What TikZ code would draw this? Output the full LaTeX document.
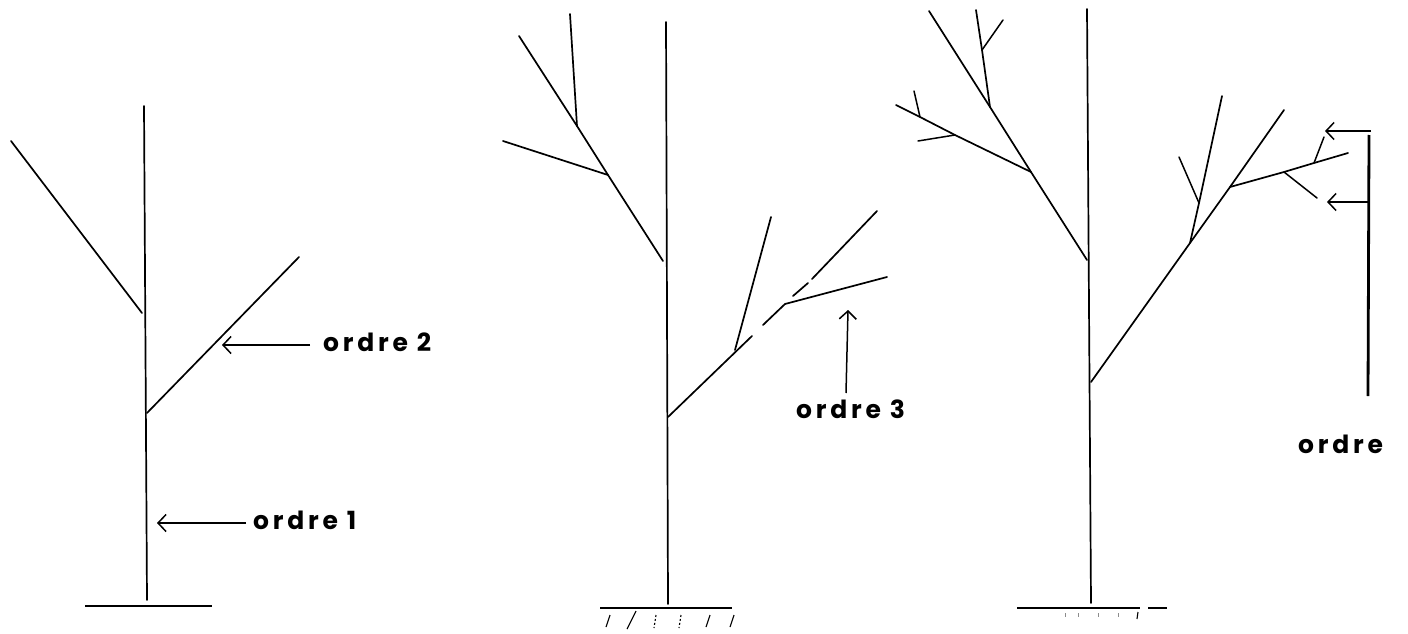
\documentclass[tikz,border=0pt]{standalone}
\usepackage{fontspec}
\newfontfamily\lbl[LetterSpace=15]{Poppins}
\usetikzlibrary{arrows.meta}
\begin{document}
\begin{tikzpicture}[x=1pt,y=-1pt,
  br/.style={line width=1.7pt, line cap=round},
  tw/.style={line width=1.5pt, line cap=round},
  gr/.style={line width=1.7pt},
  ht/.style={line width=1.1pt},
  faint/.style={line width=1pt, black!45},
  lab/.style={font=\lbl\bfseries\fontsize{25}{28}\selectfont, inner sep=0pt, anchor=base west},
  ar/.style={line width=1.5pt, -{Straight Barb[length=8pt,width=17pt,line width=1.5pt]}},
  brk/.style={line width=2.8pt},
]
\useasboundingbox (0,0) rectangle (1408,634);
% ---------------- tree 1 ----------------
\coordinate (t1top) at (144,106);
\coordinate (t1bot) at (147,600);
\coordinate (g1a) at (85,606);
\coordinate (g1b) at (212,606);
\coordinate (l1a) at (142,313);
\coordinate (l1b) at (11,141);
\coordinate (r1a) at (147,413);
\coordinate (r1b) at (299,257);
\draw[br] (t1top) -- (t1bot);
\draw[gr] (g1a) -- (g1b);
\draw[br] (l1a) -- (l1b);
\draw[br] (r1a) -- (r1b);
\node[lab] (o2) at (323,351) {ordre 2};
\node[lab] (o1) at (253,529) {ordre 1};
\coordinate (a2tail) at (310,345);
\coordinate (a2head) at (222,345);
\coordinate (a1tail) at (246,523);
\coordinate (a1head) at (157,523);
\draw[ar] (a2tail) -- (a2head);
\draw[ar] (a1tail) -- (a1head);
% ---------------- tree 2 ----------------
\coordinate (t2top) at (666,22);
\coordinate (t2bot) at (668,604);
\draw[br] (t2top) -- (t2bot);
\coordinate (g2a) at (600,608);
\coordinate (g2b) at (732,608);
\draw[gr] (g2a) -- (g2b);
\foreach \x in {608,708,732} \draw[ht] (\x+2,615) -- (\x-2,627);
\draw[ht] (636,611) -- (627,629);
\foreach \x in {655,680} \draw[ht, dash pattern=on 2pt off 2pt] (\x+1,615) -- (\x-1,628);
% left branch
\coordinate (l2a) at (663,261);
\coordinate (l2j1) at (608,175);
\coordinate (l2j2) at (577,126);
\coordinate (l2b) at (519,36);
\coordinate (l2s1) at (503,141);
\coordinate (l2s2) at (570,14);
\draw[br] (l2a) -- (l2j1) -- (l2j2) -- (l2b);
\draw[br] (l2j1) -- (l2s1);
\draw[br] (l2j2) -- (l2s2);
% right branch (with gaps)
\coordinate (r2a) at (668,417);
\coordinate (r2g1) at (752,336);
\coordinate (r2g2) at (763,325);
\coordinate (r2f) at (785,304);
\coordinate (r2e) at (887,277);
\coordinate (r2u1) at (793,296);
\coordinate (r2u2) at (808,283);
\coordinate (r2u3) at (812,279);
\coordinate (r2u4) at (877,211);
\coordinate (r2sj) at (735,350);
\coordinate (r2st) at (771,217);
\draw[br] (r2a) -- (r2g1);
\draw[br] (r2g2) -- (r2f);
\draw[br] (r2f) -- (r2e);
\draw[br] (r2u1) -- (r2u2);
\draw[br] (r2u3) -- (r2u4);
\draw[br] (r2sj) -- (r2st);
\node[lab] (o3) at (796,418) {ordre 3};
\coordinate (a3tail) at (846,393);
\coordinate (a3head) at (848,310);
\draw[ar] (a3tail) -- (a3head);
% ---------------- tree 3 ----------------
\coordinate (t3top) at (1087,9);
\coordinate (t3bot) at (1091,603);
\draw[br] (t3top) -- (t3bot);
\coordinate (g3a) at (1017,608);
\coordinate (g3b) at (1140,608);
\coordinate (g3c) at (1148,608);
\coordinate (g3d) at (1167,608);
\draw[gr] (g3a) -- (g3b);
\draw[gr] (g3c) -- (g3d);
\foreach \x in {1065,1078,1098,1118} \draw[faint] (\x,613) -- (\x,617);
\draw[ht] (1138,612) -- (1137,619);
% left branch
\coordinate (l3a) at (1087,260);
\coordinate (l3ja) at (1031,172);
\coordinate (l3jb) at (990,107);
\coordinate (l3b) at (929,11);
\coordinate (l3s1) at (896,105);
\coordinate (l3s2) at (976,10);
\coordinate (l3k1) at (982,50);
\coordinate (l3k1e) at (1003,20);
\coordinate (l3k2) at (920,117);
\coordinate (l3k2e) at (914,91);
\coordinate (l3k3) at (955,135);
\coordinate (l3k3e) at (918,141);
\draw[br] (l3a) -- (l3ja) -- (l3jb) -- (l3b);
\draw[br] (l3ja) -- (l3k3) -- (l3k2) -- (l3s1);
\draw[br] (l3jb) -- (l3k1) -- (l3s2);
\draw[tw] (l3k1) -- (l3k1e);
\draw[tw] (l3k2) -- (l3k2e);
\draw[tw] (l3k3) -- (l3k3e);
% right branch
\coordinate (r3a) at (1091,382);
\coordinate (r3jc) at (1190,243);
\coordinate (r3jd) at (1230,187);
\coordinate (r3b) at (1284,110);
\coordinate (r3c) at (1222,96);
\coordinate (r3ck) at (1199,203);
\coordinate (r3cke) at (1179,157);
\coordinate (r3d) at (1348,153);
\coordinate (r3dk1) at (1284,172);
\coordinate (r3dk1e) at (1317,198);
\coordinate (r3dk2) at (1314,163);
\coordinate (r3dk2e) at (1324,137);
\draw[br] (r3a) -- (r3jc) -- (r3jd) -- (r3b);
\draw[br] (r3jc) -- (r3ck) -- (r3c);
\draw[tw] (r3ck) -- (r3cke);
\draw[br] (r3jd) -- (r3dk1) -- (r3dk2) -- (r3d);
\draw[tw] (r3dk1) -- (r3dk1e);
\draw[tw] (r3dk2) -- (r3dk2e);
% bracket
\coordinate (bk1) at (1369,135);
\coordinate (bk2) at (1368,396);
\draw[brk] (bk1) -- (bk2);
\coordinate (a4tail) at (1371,131);
\coordinate (a4head) at (1325,131);
\coordinate (a5tail) at (1368,202);
\coordinate (a5head) at (1327,202);
\draw[ar] (a4tail) -- (a4head);
\draw[ar] (a5tail) -- (a5head);
\node[lab] (o4) at (1298,453) {ordre};
\end{tikzpicture}
\end{document}
